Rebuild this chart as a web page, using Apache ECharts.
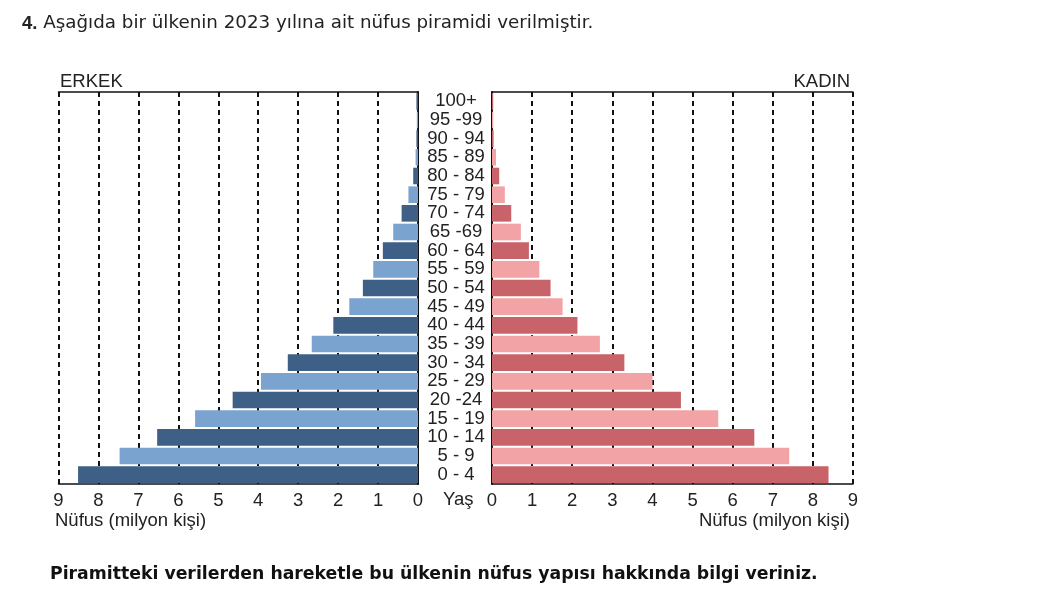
<!DOCTYPE html>
<html>
<head>
<meta charset="utf-8">
<script src="https://cdn.jsdelivr.net/npm/echarts@6/dist/echarts.min.js"></script>
<style>
html,body{margin:0;padding:0;background:#fff;}
#c{width:1051px;height:603px;}
</style>
</head>
<body>
<div id="c"></div>
<script>
// Age groups, bottom (0-4) to top (100+)
var ageGroups = ['0 - 4','5 - 9','10 - 14','15 - 19','20 -24','25 - 29','30 - 34','35 - 39','40 - 44','45 - 49','50 - 54','55 - 59','60 - 64','65 -69','70 - 74','75 - 79','80 - 84','85 - 89','90 - 94','95 -99','100+'];
// Population in millions
var maleValues   = [8.51,7.47,6.53,5.58,4.64,3.93,3.26,2.66,2.12,1.72,1.38,1.12,0.88,0.62,0.41,0.24,0.12,0.06,0.04,0.03,0.04];
var femaleValues = [8.39,7.41,6.54,5.64,4.71,4.00,3.30,2.69,2.13,1.76,1.46,1.18,0.92,0.72,0.48,0.32,0.18,0.10,0.04,0.03,0.03];
var tickValues = [0,1,2,3,4,5,6,7,8,9];

var FONT = '"Liberation Sans", Arial, sans-serif';
var WIDE = '"DejaVu Sans", sans-serif';
var FS = 18.5;
var maleDark = '#3e5f86', maleLight = '#7aa3cf';
var femDark = '#c8636a', femLight = '#f2a3a6';

function styled(vals, dark, light){
  return vals.map(function(v,i){
    return {value: v, itemStyle: {color: (i % 2 === 0) ? dark : light}};
  });
}

var chart = echarts.init(document.getElementById('c'), null, {renderer:'canvas'});

var gridTop = 92, gridBottom = 119;
var dashed = {show:true, lineStyle:{color:'#111', width:2, type:[5,4]}};
var tickLabel = {show:true, fontSize:FS, color:'#222', fontFamily:FONT, margin:7,
  formatter: function(v){ return tickValues.indexOf(v) >= 0 ? String(v) : ''; }};
function txt(extra){
  var s = {fontSize:FS, fontWeight:'normal', color:'#222', fontFamily:FONT};
  for (var k in extra) s[k] = extra[k];
  return s;
}

var option = {
  backgroundColor:'#fff',
  animation:false,
  textStyle:{fontFamily:FONT},
  title:[
    {text:'{b|4.} {t|Aşağıda bir ülkenin 2023 yılına ait nüfus piramidi verilmiştir.}', left:22, top:14, padding:0,
      textStyle:{fontSize:18.3, fontWeight:'normal', color:'#222', fontFamily:WIDE,
        rich:{b:{fontSize:18.5, fontWeight:'bold', color:'#222', fontFamily:FONT},
              t:{fontSize:18.3, fontWeight:'normal', color:'#222', fontFamily:WIDE}}}},
    {text:'ERKEK', left:60, top:72, padding:0, textStyle:txt({})},
    {text:'KADIN', right:201, top:72, padding:0, textStyle:txt({})},
    {text:'Yaş', left:443, top:490, padding:0, textStyle:txt({})},
    {text:'Nüfus (milyon kişi)', left:55, top:511, padding:0, textStyle:txt({})},
    {text:'Nüfus (milyon kişi)', right:201, top:511, padding:0, textStyle:txt({})},
    {text:'Piramitteki verilerden hareketle bu ülkenin nüfus yapısı hakkında bilgi veriniz.', left:50, top:566, padding:0,
      textStyle:{fontSize:17.3, fontWeight:'bold', color:'#111', fontFamily:WIDE}}
  ],
  grid:[
    {left:58.5, right:1051-418, top:gridTop, bottom:gridBottom},
    {left:492, right:1051-853, top:gridTop, bottom:gridBottom}
  ],
  xAxis:[
    {gridIndex:0, type:'value', min:0, max:9, interval:1, inverse:true, position:'bottom',
      axisLine:{show:true, onZero:false, lineStyle:{color:'#111', width:1.5}},
      axisTick:{show:false}, axisLabel:tickLabel, splitLine:dashed},
    {gridIndex:1, type:'value', min:0, max:9, interval:1, position:'bottom',
      axisLine:{show:true, onZero:false, lineStyle:{color:'#111', width:1.5}},
      axisTick:{show:false}, axisLabel:tickLabel, splitLine:dashed},
    {gridIndex:0, type:'value', min:0, max:9, interval:1, inverse:true, position:'top',
      axisLine:{show:true, onZero:false, lineStyle:{color:'#111', width:1.5}},
      axisTick:{show:false}, axisLabel:{show:false}, splitLine:{show:false}},
    {gridIndex:1, type:'value', min:0, max:9, interval:1, position:'top',
      axisLine:{show:true, onZero:false, lineStyle:{color:'#111', width:1.5}},
      axisTick:{show:false}, axisLabel:{show:false}, splitLine:{show:false}}
  ],
  yAxis:[
    {gridIndex:0, type:'category', data:ageGroups, position:'right',
      axisLine:{show:true, onZero:false, lineStyle:{color:'#111', width:2}},
      axisTick:{show:false}, axisLabel:{show:false}, splitLine:{show:false}},
    {gridIndex:1, type:'category', data:ageGroups, position:'left',
      axisLine:{show:true, onZero:false, lineStyle:{color:'#111', width:2}},
      axisTick:{show:false},
      axisLabel:{show:true, interval:0, align:'center', margin:36, fontSize:FS, color:'#222', fontFamily:FONT},
      splitLine:{show:false}}
  ],
  series:[
    {type:'bar', name:'Erkek', xAxisIndex:0, yAxisIndex:0, data:styled(maleValues, maleDark, maleLight),
      barCategoryGap:'11%', z:3},
    {type:'bar', name:'Kadın', xAxisIndex:1, yAxisIndex:1, data:styled(femaleValues, femDark, femLight),
      barCategoryGap:'11%', z:3}
  ]
};
chart.setOption(option);
</script>
</body>
</html>
